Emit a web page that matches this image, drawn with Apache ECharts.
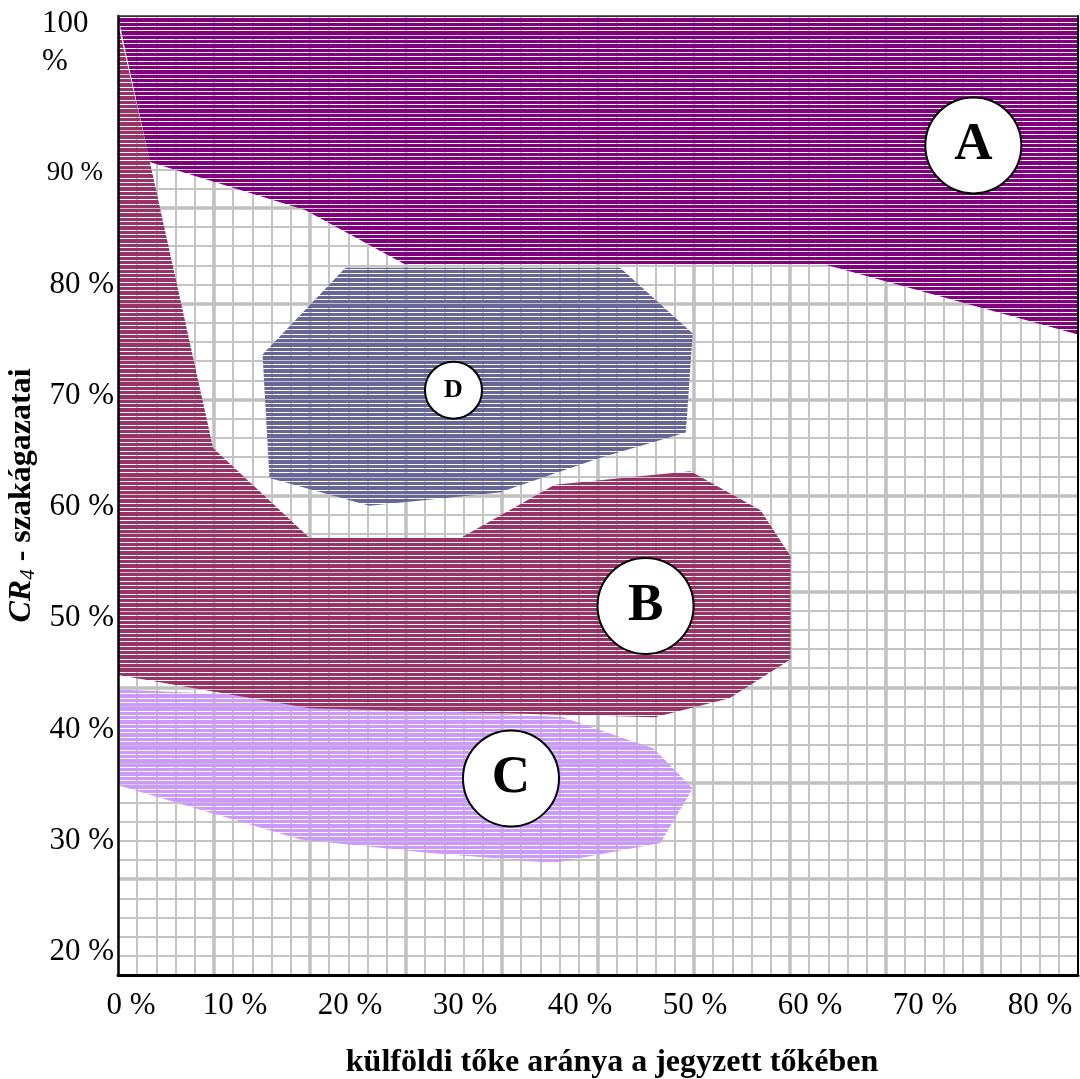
<!DOCTYPE html>
<html><head><meta charset="utf-8">
<script src="https://cdn.jsdelivr.net/npm/echarts@6/dist/echarts.min.js"></script>
<style>html,body{margin:0;padding:0;background:#fff}#c{width:1080px;height:1079px}</style>
</head><body><div id="c"></div>
<script>
// ---- data (percent units) ----
const xTickValues = [0, 10, 20, 30, 40, 50, 60, 70, 80];
const xTickLabels = ['0 %', '10 %', '20 %', '30 %', '40 %', '50 %', '60 %', '70 %', '80 %'];
const yTickValues = [20, 30, 40, 50, 60, 70, 80, 90, 100];
const yTickLabels = ['20 %', '30 %', '40 %', '50 %', '60 %', '70 %', '80 %', '90 %', '100 %'];

const regionA_x = [-0.2, 83.3, 83.3, 61.3, 24.8, 16.1, 2.6];
const regionA_y = [104.2, 104.2, 75.5, 81.8, 81.8, 86.7, 91.0];

const regionB_x = [-0.2, 2.6, 8.1, 16.5, 29.6, 37.8, 49.6, 55.7, 58.3, 58.3, 53.0, 46.5, 16.5, -0.2];
const regionB_y = [103.6, 91.0, 65.3, 57.2, 57.2, 62.0, 63.2, 59.7, 55.6, 46.3, 42.8, 41.1, 41.9, 44.9];

const regionC_x = [-0.2, 15.7, 27.0, 38.5, 46.4, 49.8, 47.0, 37.7, 27.0, 15.7, -0.2];
const regionC_y = [43.6, 42.9, 41.8, 41.1, 38.3, 34.7, 29.8, 28.0, 28.9, 30.1, 35.0];

const regionD_x = [19.6, 43.5, 49.8, 49.2, 41.7, 33.0, 21.7, 13.0, 12.4];
const regionD_y = [81.5, 81.5, 75.6, 66.7, 64.4, 61.3, 60.1, 62.6, 73.7];

const circleLabels = ['A', 'B', 'C', 'D'];
const circleX = [74.2, 45.7, 34.0, 29.0];
const circleY = [92.5, 51.1, 35.6, 70.5];

const xTitle = 'külföldi tőke aránya a jegyzett tőkében';

// ---- styling / layout ----
const FONT = 'Liberation Serif, Times New Roman, serif';
const X_MIN = -0.17, X_MAX = 83.3, Y_MIN = 17.93, Y_MAX = 104.13;
const colors = {A: '#800080', B: '#993366', C: '#CC99FF', D: '#666699'};

function stripe(color) {
  const c = document.createElement('canvas');
  c.width = 8; c.height = 13;
  const g = c.getContext('2d');
  g.fillStyle = color; g.fillRect(0, 0, 8, 13);
  g.clearRect(0, 0, 8, 1); g.clearRect(0, 4, 8, 1); g.clearRect(0, 9, 8, 1);
  return {image: c, repeat: 'repeat'};
}

function polySeries(name, xs, ys, color) {
  const fill = stripe(color);
  return {
    type: 'custom', name, xAxisIndex: 1, yAxisIndex: 1, clip: true, silent: true,
    data: xs.map((x, i) => [x, ys[i]]),
    renderItem: (params, api) => {
      if (params.dataIndex !== 0) return null;
      const pts = xs.map((x, i) => api.coord([x, ys[i]]));
      return {type: 'polygon', shape: {points: pts}, style: {fill: fill, stroke: null}};
    }
  };
}

const sizes = [96, 96, 96, 57];
const fsz = [53, 53, 53, 26];

const chart = echarts.init(document.getElementById('c'), null, {renderer: 'canvas'});
const lineOnly = (extra) => Object.assign({
  type: 'value', axisTick: {show: false}, axisLabel: {show: false}, splitLine: {show: false}, z: 10
}, extra);

chart.setOption({
  animation: false,
  backgroundColor: '#fff',
  grid: [
    {left: 118, top: 16, width: 960, height: 959, show: false, containLabel: false, outerBoundsMode: 'none'},
    {left: 120, top: 62, width: 920, height: 890, show: false, containLabel: false, outerBoundsMode: 'none'}
  ],
  xAxis: [
    {gridIndex: 0, type: 'value', min: 0, max: 50, interval: 5, position: 'bottom',
      axisLine: {show: false, onZero: false}, axisTick: {show: false}, axisLabel: {show: false},
      splitLine: {show: true, showMinLine: false, showMaxLine: false, lineStyle: {color: '#C0C0C0', width: 3.5}},
      minorTick: {show: false, splitNumber: 5},
      minorSplitLine: {show: true, lineStyle: {color: '#C4C4C4', width: 2}},
      name: xTitle, nameLocation: 'middle', nameGap: 72,
      nameTextStyle: {fontFamily: FONT, fontSize: 32, fontWeight: 'bold', color: '#000', padding: [0, 0, 0, 28]}},
    lineOnly({gridIndex: 0, min: X_MIN, max: X_MAX, position: 'bottom',
      axisLine: {show: true, onZero: false, lineStyle: {color: '#000', width: 3}}}),
    lineOnly({gridIndex: 0, min: X_MIN, max: X_MAX, position: 'top',
      axisLine: {show: true, onZero: false, lineStyle: {color: '#333', width: 1.5}}}),
    {gridIndex: 1, type: 'value', min: 0, max: 80, interval: 10, position: 'bottom',
      axisLine: {show: false, onZero: false}, axisTick: {show: false}, splitLine: {show: false},
      axisLabel: {margin: 38, color: '#000', fontFamily: FONT, fontSize: 31,
        formatter: (v) => { const i = xTickValues.indexOf(v); const t = i >= 0 ? xTickLabels[i] : ''; return i === 0 ? '{z|' + t + '}' : '{n|' + t + '}'; },
        rich: {n: {fontFamily: FONT, fontSize: 31, color: '#000'}, z: {fontFamily: FONT, fontSize: 31, color: '#000', padding: [0, 0, 0, 22]}}}}
  ],
  yAxis: [
    {gridIndex: 0, type: 'value', min: 0, max: 50, interval: 5, position: 'left',
      axisLine: {show: false, onZero: false}, axisTick: {show: false}, axisLabel: {show: false},
      splitLine: {show: true, showMinLine: false, showMaxLine: false, lineStyle: {color: '#C0C0C0', width: 3.5}},
      minorTick: {show: false, splitNumber: 5},
      minorSplitLine: {show: true, lineStyle: {color: '#C4C4C4', width: 2}},
      name: '{a|CR}{b|4}{c| - szakágazatai}', nameLocation: 'middle', nameRotate: 90, nameGap: 79,
      nameTextStyle: {color: '#000', rich: {
        a: {fontFamily: FONT, fontSize: 32, fontWeight: 'bold', fontStyle: 'italic', color: '#000'},
        b: {fontFamily: FONT, fontSize: 21, fontStyle: 'italic', color: '#000', padding: [14, 0, 0, 0]},
        c: {fontFamily: FONT, fontSize: 32, fontWeight: 'bold', color: '#000'}}}},
    lineOnly({gridIndex: 0, min: Y_MIN, max: Y_MAX, position: 'left',
      axisLine: {show: true, onZero: false, lineStyle: {color: '#000', width: 2.5}}}),
    lineOnly({gridIndex: 0, min: Y_MIN, max: Y_MAX, position: 'right',
      axisLine: {show: true, onZero: false, lineStyle: {color: '#000', width: 2}}}),
    {gridIndex: 1, type: 'value', min: 20, max: 100, interval: 10, position: 'left',
      axisLine: {show: false, onZero: false}, axisTick: {show: false}, splitLine: {show: false},
      axisLabel: {margin: 6, color: '#000',
        formatter: (v) => {
          const i = yTickValues.indexOf(v); const t = i >= 0 ? yTickLabels[i] : '';
          if (v === 100) { const p = t.split(' '); return '{h|' + p[0] + '}\n{h|' + p[1] + '}\n{h| }'; }
          if (v === 90) return '{s|' + t + '}';
          return '{n|' + t + '}';
        },
        rich: {
          n: {fontFamily: FONT, fontSize: 31, color: '#000'},
          s: {fontFamily: FONT, fontSize: 27, color: '#000', padding: [0, 11, 0, 0]},
          h: {fontFamily: FONT, fontSize: 31, color: '#000', lineHeight: 38, width: 72, align: 'left'}
        }}}
  ],
  series: [
    polySeries('A', regionA_x, regionA_y, colors.A),
    polySeries('C', regionC_x, regionC_y, colors.C),
    polySeries('B', regionB_x, regionB_y, colors.B),
    polySeries('D', regionD_x, regionD_y, colors.D),
    {type: 'scatter', xAxisIndex: 1, yAxisIndex: 1, z: 6, silent: true,
      data: circleLabels.map((l, i) => ({value: [circleX[i], circleY[i]], name: l, symbolSize: sizes[i],
        label: {fontSize: fsz[i]}})),
      itemStyle: {color: '#fff', borderColor: '#000', borderWidth: 2, opacity: 1},
      label: {show: true, position: 'inside', formatter: (p) => p.name, color: '#000',
        fontFamily: FONT, fontWeight: 'bold'}}
  ]
});
</script></body></html>
